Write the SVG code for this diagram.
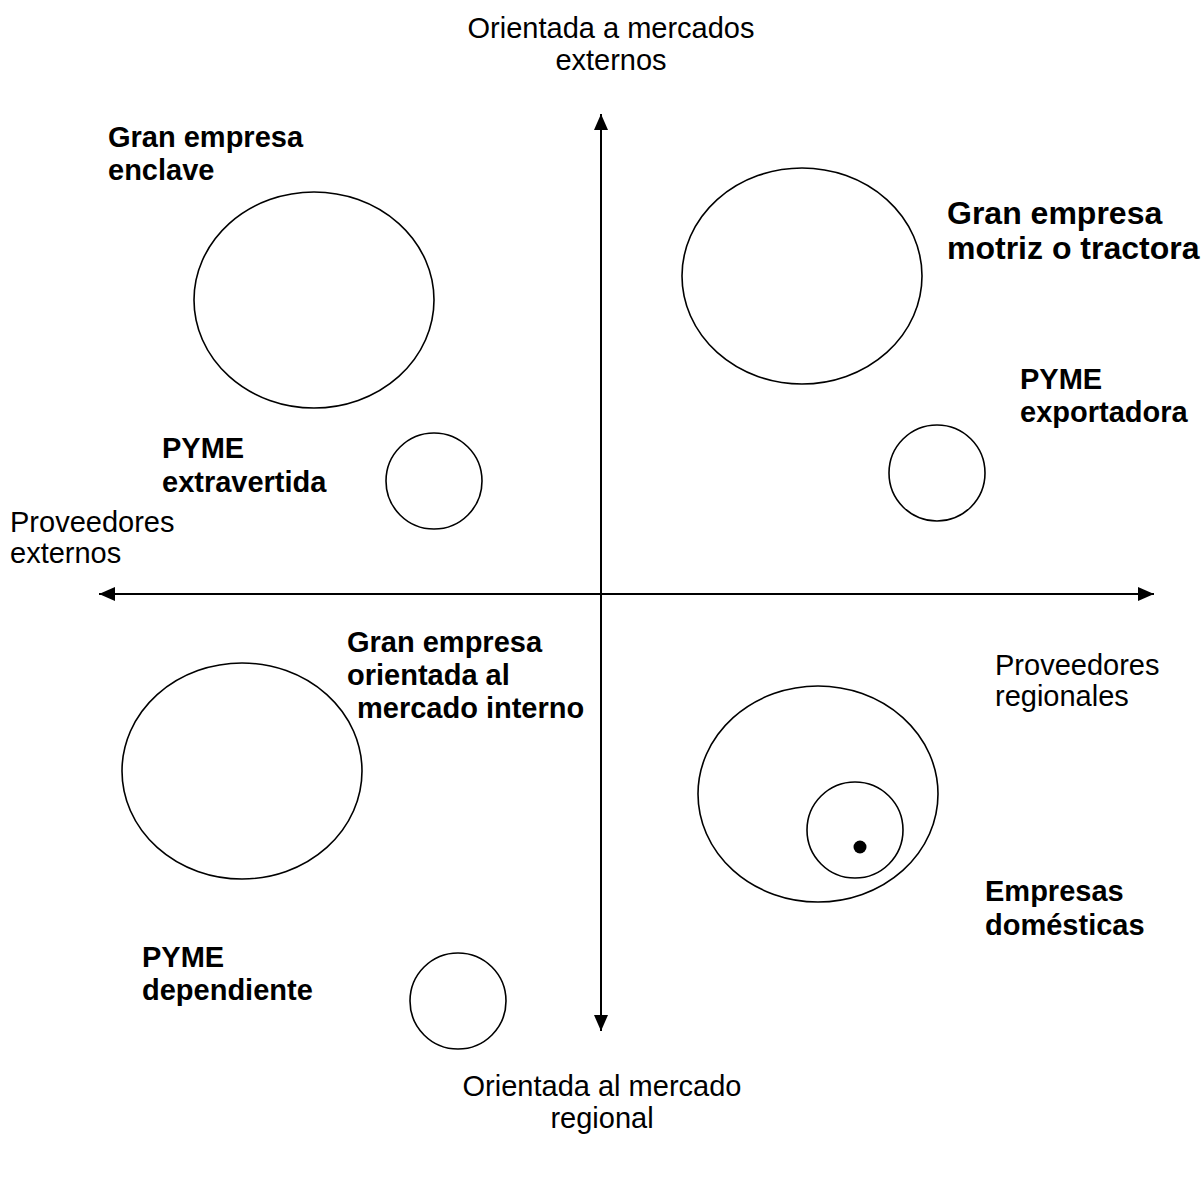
<svg xmlns="http://www.w3.org/2000/svg" width="1201" height="1201" viewBox="0 0 1201 1201">
  <style>
    .bg { fill: #ffffff; }
    .axis { stroke: #000000; stroke-width: 2; fill: none; }
    .shape { stroke: #000000; stroke-width: 1.6; fill: none; }
    .lbl { font-family: "Liberation Sans", Arial, sans-serif; font-size: 29px; fill: #000000; }
    .bold { font-weight: bold; }
    .big { font-size: 32px; }
  </style>
  <defs>
    <marker id="head" viewBox="0 0 16 14" refX="16" refY="7" markerWidth="16" markerHeight="14" markerUnits="userSpaceOnUse" orient="auto-start-reverse">
      <path d="M0,0 L16,7 L0,14 Z" fill="#000000"/>
    </marker>
  </defs>
  <rect class="bg" x="0" y="0" width="1201" height="1201"/>

  <!-- axes -->
  <g id="connectors">
    <line class="axis" x1="99" y1="594" x2="1154" y2="594" marker-start="url(#head)" marker-end="url(#head)"/>
    <line class="axis" x1="601" y1="114" x2="601" y2="1031" marker-start="url(#head)" marker-end="url(#head)"/>
  </g>

  <!-- axis captions -->
  <g id="axis-top">
    <text class="lbl" x="611" y="38" text-anchor="middle">Orientada a mercados</text>
    <text class="lbl" x="611" y="70" text-anchor="middle">externos</text>
  </g>
  <g id="axis-bottom">
    <text class="lbl" x="602" y="1096" text-anchor="middle">Orientada al mercado</text>
    <text class="lbl" x="602" y="1128" text-anchor="middle">regional</text>
  </g>
  <g id="axis-left">
    <text class="lbl" x="10" y="532">Proveedores</text>
    <text class="lbl" x="10" y="563">externos</text>
  </g>
  <g id="axis-right">
    <text class="lbl" x="995" y="675">Proveedores</text>
    <text class="lbl" x="995" y="706">regionales</text>
  </g>

  <!-- upper-left quadrant -->
  <g id="gran-empresa-enclave">
    <ellipse class="shape" cx="314" cy="300" rx="120" ry="108"/>
    <text class="lbl bold" x="108" y="147">Gran empresa</text>
    <text class="lbl bold" x="108" y="180">enclave</text>
  </g>
  <g id="pyme-extravertida">
    <circle class="shape" cx="434" cy="481" r="48"/>
    <text class="lbl bold" x="162" y="458">PYME</text>
    <text class="lbl bold" x="162" y="492">extravertida</text>
  </g>

  <!-- upper-right quadrant -->
  <g id="gran-empresa-motriz">
    <ellipse class="shape" cx="802" cy="276" rx="120" ry="108"/>
    <text class="lbl bold big" x="947" y="224">Gran empresa</text>
    <text class="lbl bold big" x="947" y="259">motriz o tractora</text>
  </g>
  <g id="pyme-exportadora">
    <circle class="shape" cx="937" cy="473" r="48"/>
    <text class="lbl bold" x="1020" y="389">PYME</text>
    <text class="lbl bold" x="1020" y="422">exportadora</text>
  </g>

  <!-- lower-left quadrant -->
  <g id="gran-empresa-interno">
    <ellipse class="shape" cx="242" cy="771" rx="120" ry="108"/>
    <text class="lbl bold" x="347" y="652">Gran empresa</text>
    <text class="lbl bold" x="347" y="685">orientada al</text>
    <text class="lbl bold" x="357" y="718">mercado interno</text>
  </g>
  <g id="pyme-dependiente">
    <circle class="shape" cx="458" cy="1001" r="48"/>
    <text class="lbl bold" x="142" y="967">PYME</text>
    <text class="lbl bold" x="142" y="1000">dependiente</text>
  </g>

  <!-- lower-right quadrant -->
  <g id="empresas-domesticas">
    <ellipse class="shape" cx="818" cy="794" rx="120" ry="108"/>
    <circle class="shape" cx="855" cy="830" r="48"/>
    <circle cx="860" cy="847" r="6.5" fill="#000000"/>
    <text class="lbl bold" x="985" y="901">Empresas</text>
    <text class="lbl bold" x="985" y="935">domésticas</text>
  </g>
</svg>
